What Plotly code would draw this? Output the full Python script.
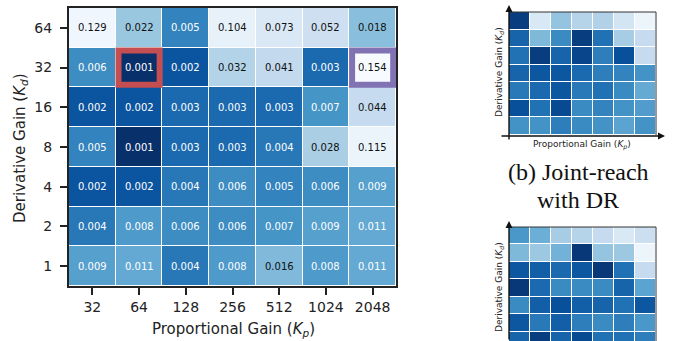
import numpy as np
import plotly.graph_objects as go

# Gain grids
kp_labels = ["32", "64", "128", "256", "512", "1024", "2048"]
kd_labels = ["1", "2", "4", "8", "16", "32", "64"]  # bottom -> top

# Tracking error per (Kd, Kp); rows ordered Kd = 1 ... 64
err_kd1 = [0.009, 0.011, 0.004, 0.008, 0.016, 0.008, 0.011]
err_kd2 = [0.004, 0.008, 0.006, 0.006, 0.007, 0.009, 0.011]
err_kd4 = [0.002, 0.002, 0.004, 0.006, 0.005, 0.006, 0.009]
err_kd8 = [0.005, 0.001, 0.003, 0.003, 0.004, 0.028, 0.115]
err_kd16 = [0.002, 0.002, 0.003, 0.003, 0.003, 0.007, 0.044]
err_kd32 = [0.006, 0.001, 0.002, 0.032, 0.041, 0.003, 0.154]
err_kd64 = [0.129, 0.022, 0.005, 0.104, 0.073, 0.052, 0.018]
errors = [err_kd1, err_kd2, err_kd4, err_kd8, err_kd16, err_kd32, err_kd64]

# Highlighted settings: (Kp, Kd)
best_gain = ("64", "32")
default_gain = ("2048", "32")

# Relative shading of the thumbnail panels (0 = light, 1 = dark), rows bottom -> top
thumb_b = [
    [0.62, 0.62, 0.70, 0.65, 0.62, 0.55, 0.62],
    [0.88, 0.75, 0.90, 0.65, 0.68, 0.62, 0.58],
    [0.72, 0.78, 0.85, 0.72, 0.75, 0.65, 0.52],
    [0.80, 0.85, 0.85, 0.78, 0.70, 0.68, 0.62],
    [0.75, 0.95, 0.80, 0.92, 0.70, 0.88, 0.25],
    [0.80, 0.45, 0.65, 0.95, 0.75, 0.35, 0.25],
    [0.95, 0.15, 0.40, 0.30, 0.32, 0.18, 0.05],
]
thumb_c = [
    [0.80, 0.95, 0.80, 0.90, 0.75, 0.75, 0.70],
    [0.85, 0.72, 0.82, 0.70, 0.65, 0.70, 0.60],
    [0.65, 0.82, 0.88, 0.82, 0.80, 0.75, 0.85],
    [0.97, 0.78, 0.65, 0.65, 0.65, 0.80, 0.55],
    [0.85, 0.82, 0.78, 0.85, 0.97, 0.75, 0.25],
    [0.45, 0.38, 0.48, 0.97, 0.40, 0.38, 0.05],
    [0.60, 0.50, 0.35, 0.30, 0.25, 0.15, 0.22],
]

BLUES = ['rgb(247,251,255)', 'rgb(222,235,247)', 'rgb(198,219,239)',
         'rgb(158,202,225)', 'rgb(107,174,214)', 'rgb(66,146,198)',
         'rgb(33,113,181)', 'rgb(8,81,156)', 'rgb(8,48,107)']
blues_scale = [[i / 8, c] for i, c in enumerate(BLUES)]
blues_r_scale = [[i / 8, c] for i, c in enumerate(BLUES[::-1])]

W, H = 678, 341


def px_x(x):
    return x / W


def px_y(y):
    return 1 - y / H


err = np.array(errors)
zlog = np.log10(err)

fig = go.Figure()

fig.add_trace(go.Heatmap(
    z=zlog, x=list(range(7)), y=list(range(7)),
    colorscale=blues_r_scale, zmin=np.log10(err.min()), zmax=np.log10(err.max()),
    xgap=1, ygap=1, showscale=False, hoverinfo="skip",
    xaxis="x", yaxis="y",
))

fig.add_trace(go.Heatmap(
    z=thumb_b, colorscale=blues_scale, zmin=0, zmax=1, xgap=1, ygap=1,
    showscale=False, hoverinfo="skip", xaxis="x2", yaxis="y2",
))
fig.add_trace(go.Heatmap(
    z=thumb_c, colorscale=blues_scale, zmin=0, zmax=1, xgap=1, ygap=1,
    showscale=False, hoverinfo="skip", xaxis="x3", yaxis="y3",
))

annotations = []
for i, row in enumerate(errors):
    for j, v in enumerate(row):
        annotations.append(dict(
            x=j, y=i, xref="x", yref="y", text=f"{v:.3f}", showarrow=False,
            xanchor="center", yanchor="middle",
            font=dict(family="DejaVu Sans", size=10,
                      color="#111111" if v >= 0.015 else "#ffffff"),
        ))


def label(x, y, text, size, family="DejaVu Sans", angle=0, color="#222222"):
    return dict(x=px_x(x), y=px_y(y), xref="paper", yref="paper", text=text,
                showarrow=False, textangle=angle, xanchor="center",
                yanchor="middle", font=dict(family=family, size=size, color=color))


kp_title = "Proportional Gain (<i>K</i><sub><i>p</i></sub>)"
kd_title = "Derivative Gain (<i>K</i><sub><i>d</i></sub>)"

# Axis titles of the main panel
annotations.append(label(233, 329, kp_title, 15))
annotations.append(label(20, 148, kd_title, 15, angle=-90))

# Thumbnail labels
annotations.append(label(582, 145, kp_title, 9))
annotations.append(label(499, 72, kd_title, 9, angle=-90))
annotations.append(label(499, 287, kd_title, 9, angle=-90))

# Caption
annotations.append(label(578, 172, "(b) Joint-reach", 24, family="Liberation Serif", color="#111111"))
annotations.append(label(578, 200, "with DR", 24, family="Liberation Serif", color="#111111"))

# Arrow axes of the thumbnails
arrow_style = dict(showarrow=True, arrowhead=2, arrowsize=1, arrowwidth=1.4,
                   arrowcolor="#111111", text="", xref="paper", yref="paper")
annotations.append(dict(x=px_x(509), y=px_y(5), ax=0, ay=136, **arrow_style))
annotations.append(dict(x=px_x(665), y=px_y(136), ax=-165, ay=0, **arrow_style))
annotations.append(dict(x=px_x(509), y=px_y(221), ax=0, ay=125, **arrow_style))

shapes = []
# Highlight boxes on the main panel
kp_idx = {k: i for i, k in enumerate(kp_labels)}
kd_idx = {k: i for i, k in enumerate(kd_labels)}
for (kp, kd), col in ((best_gain, "#c44e52"), (default_gain, "#8172b3")):
    cx, cy = kp_idx[kp], kd_idx[kd]
    shapes.append(dict(
        type="rect", xref="x", yref="y",
        x0=cx - 0.5 + 0.06, x1=cx + 0.5 - 0.06,
        y0=cy - 0.5 + 0.07, y1=cy + 0.5 - 0.07,
        line=dict(color=col, width=6), layer="above",
    ))

# Thin top/right frame of the thumbnails
for top, bottom in ((12, 135), (227, 345)):
    shapes.append(dict(type="line", xref="paper", yref="paper",
                       x0=px_x(509), x1=px_x(656), y0=px_y(top), y1=px_y(top),
                       line=dict(color="#333333", width=1)))
    shapes.append(dict(type="line", xref="paper", yref="paper",
                       x0=px_x(656), x1=px_x(656), y0=px_y(top), y1=px_y(bottom),
                       line=dict(color="#333333", width=1)))

tick_font = dict(family="DejaVu Sans", size=14, color="#222222")
hidden = dict(showticklabels=False, showgrid=False, zeroline=False,
              showline=False, ticks="")

fig.update_layout(
    width=W, height=H,
    margin=dict(l=0, r=0, t=0, b=0),
    paper_bgcolor="white", plot_bgcolor="white",
    showlegend=False,
    xaxis=dict(domain=[px_x(69), px_x(396)], range=[-0.5, 6.5],
               tickmode="array", tickvals=list(range(7)), ticktext=kp_labels,
               ticks="outside", ticklen=7, tickwidth=1.5, tickcolor="#222222",
               tickfont=tick_font, ticklabelstandoff=0,
               showgrid=False, zeroline=False,
               showline=True, mirror=True, linecolor="#222222", linewidth=2,
               anchor="y"),
    yaxis=dict(domain=[px_y(286), px_y(8)], range=[-0.5, 6.5],
               tickmode="array", tickvals=list(range(7)), ticktext=kd_labels,
               ticks="outside", ticklen=7, tickwidth=1.5, tickcolor="#222222",
               tickfont=tick_font, ticklabelstandoff=5,
               showgrid=False, zeroline=False,
               showline=True, mirror=True, linecolor="#222222", linewidth=2,
               anchor="x"),
    xaxis2=dict(domain=[px_x(509), px_x(656)], range=[-0.5, 6.5], anchor="y2", **hidden),
    yaxis2=dict(domain=[px_y(135), px_y(12)], range=[-0.5, 6.5], anchor="x2", **hidden),
    xaxis3=dict(domain=[px_x(509), px_x(656)], range=[-0.5, 6.5], anchor="y3", **hidden),
    yaxis3=dict(domain=[0, px_y(227)], range=[6.5 - 7 * 114 / 122, 6.5], anchor="x3", **hidden),
    annotations=annotations,
    shapes=shapes,
)

fig.write_html("out.html")
